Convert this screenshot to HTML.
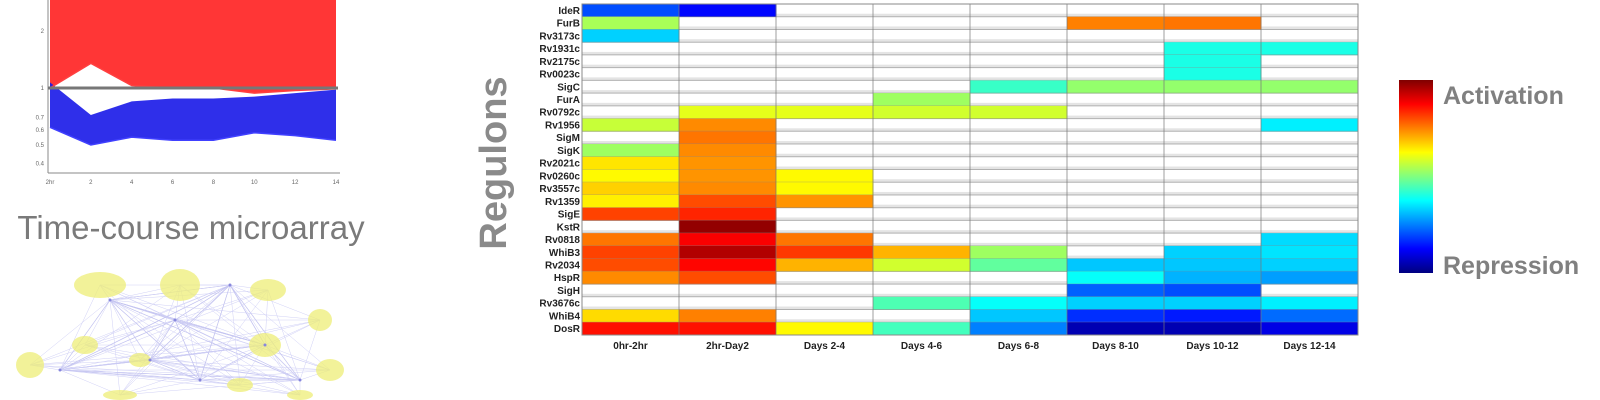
<!DOCTYPE html>
<html><head><meta charset="utf-8"><style>
body{margin:0;background:#fff;width:1600px;height:400px;overflow:hidden;font-family:"Liberation Sans",sans-serif}
svg{position:absolute;left:0;top:0}
</style></head><body>
<svg width="1600" height="400" id="fig">
<defs>
<linearGradient id="jet" x1="0" y1="1" x2="0" y2="0">
<stop offset="0" stop-color="#00007f"/><stop offset="0.125" stop-color="#0000ff"/><stop offset="0.375" stop-color="#00ffff"/><stop offset="0.5" stop-color="#80ff80"/><stop offset="0.625" stop-color="#ffff00"/><stop offset="0.875" stop-color="#ff0000"/><stop offset="1" stop-color="#7f0000"/>
</linearGradient>
</defs>
<g id="lineplot"></g>
<text x="191" y="239" font-size="33" fill="#7a7a7a" text-anchor="middle">Time-course microarray</text>
<g id="network"></g>
<text transform="translate(506,163) rotate(-90)" font-size="38" font-weight="bold" fill="#8a8a8a" text-anchor="middle">Regulons</text>
<g id="heat"></g>
<rect x="1399" y="80" width="34" height="193" fill="url(#jet)"/>
<text x="1443" y="104" font-size="25" font-weight="bold" fill="#808080">Activation</text>
<text x="1443" y="274" font-size="25" font-weight="bold" fill="#808080">Repression</text>
</svg>
<script>
const regulons=["IdeR","FurB","Rv3173c","Rv1931c","Rv2175c","Rv0023c","SigC","FurA","Rv0792c","Rv1956","SigM","SigK","Rv2021c","Rv0260c","Rv3557c","Rv1359","SigE","KstR","Rv0818","WhiB3","Rv2034","HspR","SigH","Rv3676c","WhiB4","DosR"];
const periods=["0hr-2hr","2hr-Day2","Days 2-4","Days 4-6","Days 6-8","Days 8-10","Days 10-12","Days 12-14"];
const N=null;
const values=[
[0.2,0.13,N,N,N,N,N,N],
[0.54,N,N,N,N,0.75,0.76,N],
[0.33,N,N,N,N,N,N,N],
[N,N,N,N,N,N,0.4,0.4],
[N,N,N,N,N,N,0.4,N],
[N,N,N,N,N,N,0.4,N],
[N,N,N,N,0.43,0.52,0.52,0.52],
[N,N,N,0.53,N,N,N,N],
[N,0.6,0.6,0.58,0.58,N,N,N],
[0.57,0.74,N,N,N,N,N,0.36],
[N,0.76,N,N,N,N,N,N],
[0.53,0.74,N,N,N,N,N,N],
[0.65,0.73,N,N,N,N,N,N],
[0.63,0.73,0.63,N,N,N,N,N],
[0.67,0.74,0.63,N,N,N,N,N],
[0.64,0.8,0.73,N,N,N,N,N],
[0.81,0.84,N,N,N,N,N,N],
[N,0.98,N,N,N,N,N,N],
[0.76,0.88,0.76,N,N,N,N,0.34],
[0.81,0.95,0.82,0.7,0.53,N,0.33,0.35],
[0.8,0.87,0.7,0.58,0.47,0.32,0.32,0.33],
[0.74,0.8,N,N,N,0.38,0.3,0.28],
[N,N,N,N,N,0.22,0.2,N],
[N,N,N,0.45,0.38,0.33,0.33,0.36],
[0.66,0.75,N,N,0.32,0.17,0.15,0.23],
[0.86,0.86,0.63,0.44,0.25,0.05,0.05,0.1]];

const timeLabels=["2hr","2","4","6","8","10","12","14"];
const redUpper=[3.2,3.2,3.2,3.2,3.2,3.2,3.2,3.2];
const redLower=[1.0,1.35,1.03,1.0,1.0,0.94,0.97,0.99];
const blueUpper=[1.07,0.72,0.85,0.88,0.88,0.9,0.94,0.98];
const blueLower=[0.62,0.5,0.55,0.53,0.53,0.58,0.56,0.53];
const yTicks=[2,1,0.7,0.6,0.5,0.4];

const NS="http://www.w3.org/2000/svg";
function mk(t,a,p){const e=document.createElementNS(NS,t);for(const k in a)e.setAttribute(k,a[k]);p.appendChild(e);return e;}
function jet(v){
 const st=[[0,0,0,127],[0.125,0,0,255],[0.375,0,255,255],[0.5,128,255,128],[0.625,255,255,0],[0.875,255,0,0],[1,127,0,0]];
 for(let i=1;i<st.length;i++){if(v<=st[i][0]){const a=st[i-1],b=st[i],t=(v-a[0])/(b[0]-a[0]);
 return `rgb(${Math.round(a[1]+t*(b[1]-a[1]))},${Math.round(a[2]+t*(b[2]-a[2]))},${Math.round(a[3]+t*(b[3]-a[3]))})`;}}
 return "rgb(127,0,0)";
}
const heat=document.getElementById('heat');
const HX0=582,HX1=1358,HY0=4,HY1=335;
const cw=(HX1-HX0)/periods.length, rh=(HY1-HY0)/regulons.length;
const xCol=i=>HX0+i*cw, yRow=j=>HY0+j*rh;
mk('rect',{x:HX0,y:HY0,width:HX1-HX0,height:HY1-HY0,fill:'#fff'},heat);
regulons.forEach((r,j)=>{
 mk('rect',{x:HX0,y:yRow(j)+rh-3,width:HX1-HX0,height:3,fill:'#e4e4e4'},heat);
 values[j].forEach((v,i)=>{if(v===null)return;
  const c=mk('rect',{x:xCol(i),y:yRow(j),width:cw+0.5,height:rh+0.3,fill:jet(v)},heat);
  
  });
 mk('line',{x1:HX0,x2:HX1,y1:yRow(j)+rh,y2:yRow(j)+rh,stroke:'#888','stroke-width':1,opacity:0.6},heat);
 const t=mk('text',{x:HX0-2,y:yRow(j)+rh/2+3.5,'font-size':10,'font-weight':'bold','text-anchor':'end',fill:'#222'},heat);
 t.textContent=r;
 
 
});
periods.forEach((p,i)=>{
 mk('line',{x1:xCol(i),x2:xCol(i),y1:HY0,y2:HY1,stroke:'#777','stroke-width':1,opacity:0.7},heat);
 const t=mk('text',{x:xCol(i)+cw/2,y:349,'font-size':10,'font-weight':'bold','text-anchor':'middle',fill:'#222'},heat);
 t.textContent=p;
 
 
});
mk('rect',{x:HX0,y:HY0,width:HX1-HX0,height:HY1-HY0,fill:'none',stroke:'#888','stroke-width':1},heat);

const lp=document.getElementById('lineplot');
const PX0=50,PX1=336,PB=173;
const xT=i=>PX0+i*(PX1-PX0)/(timeLabels.length-1);
const yV=v=>88-(Math.log(v)/Math.log(2))*57;
mk('line',{x1:48,x2:48,y1:0,y2:PB,stroke:'#888'},lp);
mk('line',{x1:48,x2:340,y1:PB,y2:PB,stroke:'#888'},lp);
function band(up,lo,col){
 let pts=up.map((v,i)=>`${xT(i)},${Math.max(0,yV(v))}`).concat(lo.map((v,i)=>`${xT(i)},${yV(v)}`).reverse());
 mk('polygon',{points:pts.join(' '),fill:col,opacity:0.9},lp);
}
band(redUpper,redLower,'#ff2020');
band(blueUpper,blueLower,'#1818e8');
function pl(arr,col,w,op){mk('polyline',{points:arr.map((v,i)=>`${xT(i)},${Math.max(0,yV(v))}`).join(' '),fill:'none',stroke:col,'stroke-width':w,opacity:op},lp);}
pl(blueLower,'#4040ff',1.5,1);pl(redLower,'#ff4040',1.5,1);
mk('line',{x1:48,x2:338,y1:88,y2:88,stroke:'#777','stroke-width':3},lp);
yTicks.forEach(v=>{const t=mk('text',{x:44,y:yV(v)+2,'font-size':6,'text-anchor':'end',fill:'#666'},lp);t.textContent=v;
 
 });
timeLabels.forEach((l,i)=>{const t=mk('text',{x:xT(i),y:184,'font-size':6,'text-anchor':'middle',fill:'#666'},lp);t.textContent=l;
 
 });

const net=document.getElementById('network');
const hubs=[[110,300],[175,320],[230,285],[265,345],[150,360],[60,370],[300,380],[200,380]];
const clusters=[[100,285,26,13],[180,285,20,16],[268,290,18,11],[265,345,16,12],[320,320,12,11],[330,370,14,11],[30,365,14,13],[85,345,13,9],[140,360,11,7],[240,385,13,7],[120,395,17,5],[300,395,13,5]];
hubs.forEach(h=>{hubs.forEach(g=>mk('line',{x1:h[0],y1:h[1],x2:g[0],y2:g[1],stroke:'#c4c4f0','stroke-width':0.6},net));
 clusters.forEach(c=>mk('line',{x1:h[0],y1:h[1],x2:c[0],y2:c[1],stroke:'#d0d0f6','stroke-width':0.5},net));});
clusters.forEach(c=>{const e=mk('ellipse',{cx:c[0],cy:c[1],rx:c[2],ry:c[3],fill:'#eeee77',opacity:0.75},net);
 
 });
hubs.forEach(h=>mk('circle',{cx:h[0],cy:h[1],r:1.5,fill:'#8888dd'},net));
</script>
</body></html>
